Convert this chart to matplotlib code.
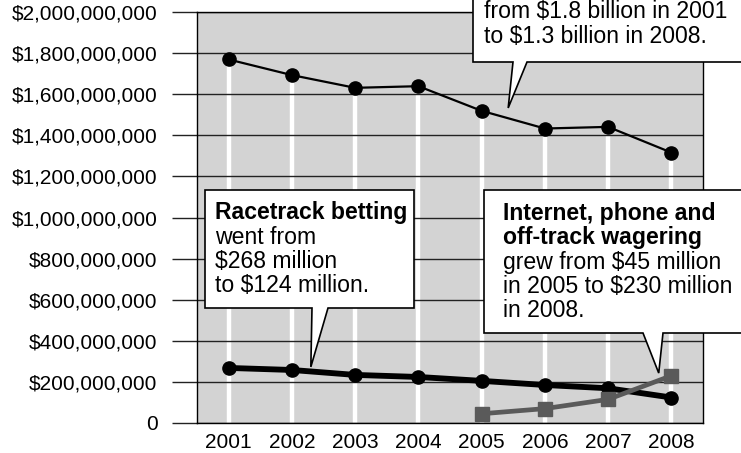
import matplotlib
matplotlib.use("Agg")
import matplotlib.pyplot as plt
from matplotlib.patches import Polygon
from matplotlib.ticker import FuncFormatter

plt.rcParams["font.family"] = ["Liberation Sans", "DejaVu Sans"]

years = [2001, 2002, 2003, 2004, 2005, 2006, 2007, 2008]
total_wagering = [1769e6, 1693e6, 1631e6, 1639e6, 1519e6, 1433e6, 1441e6, 1316e6]
racetrack = [268e6, 258e6, 234e6, 224e6, 205e6, 185e6, 169e6, 124e6]
remote_years = [2005, 2006, 2007, 2008]
remote = [45e6, 70e6, 115e6, 230e6]
y_ticks = [0, 200e6, 400e6, 600e6, 800e6, 1000e6, 1200e6, 1400e6, 1600e6, 1800e6, 2000e6]

W, H = 741, 453
BG = "#d3d3d3"
INK = "#000000"
GRID = "#222222"
GREY_LINE = "#5a5a5a"
TXT = 16.6


def px(x, y):
    """pixel (from top-left) -> figure fraction"""
    return (x / W, 1 - y / H)


fig = plt.figure(figsize=(W / 100, H / 100), dpi=100)
ax = fig.add_axes([197 / W, (H - 423) / H, (703 - 197) / W, (423 - 12) / H])
ax.set_facecolor(BG)

ax.vlines(years, 0, total_wagering, color="white", lw=3.2, zorder=1)
ax.grid(axis="y", color=GRID, lw=1)
ax.grid(axis="x", visible=False)

ax.plot(years, total_wagering, color=INK, lw=1.6, marker="o", ms=9.5, zorder=3)
ax.plot(years, racetrack, color=INK, lw=4.2, marker="o", ms=9.5, zorder=3)
ax.plot(remote_years, remote, color=GREY_LINE, lw=3.4, marker="s", ms=10, zorder=4)

ax.set_xlim(2000.5, 2008.5)
ax.set_ylim(0, 2e9)
ax.set_xticks(years)
ax.set_yticks(y_ticks)
ax.yaxis.set_major_formatter(FuncFormatter(lambda v, p: "0" if v == 0 else "${:,.0f}".format(v)))
ax.tick_params(axis="y", length=18, width=1, color=GRID, pad=10.5, labelsize=15)
ax.tick_params(axis="x", length=0, pad=7, labelsize=15)
for s in ax.spines.values():
    s.set_color(INK)
    s.set_linewidth(1)


def callout(box, base, tip_data):
    """box=(x0, y0, x1, y1) and base=(xa, xb) in pixels, tip in data coords"""
    x0, y0, x1, y1 = box
    tip = ax.transData.transform(tip_data)
    tip = (tip[0] / W, tip[1] / H)
    verts = [px(x0, y0), px(x1, y0), px(x1, y1), px(base[1], y1), tip,
             px(base[0], y1), px(x0, y1)]
    fig.add_artist(Polygon(verts, closed=True, facecolor="white", edgecolor=INK,
                           lw=1.2, zorder=5, transform=fig.transFigure))


def lines(x, y0, step, rows):
    for i, (txt, bold) in enumerate(rows):
        fig.text(*px(x, y0 + i * step), txt, fontsize=TXT, va="baseline", ha="left",
                 fontweight="bold" if bold else "normal", zorder=6)


# total wagering callout (cut off at the top of the picture, as in the source)
callout((473, -60, 770, 62), (513, 527), (2005.42, 1.533e9))
lines(484, -6, 24.5, [("Overall gaming", True),
                      ("from $1.8 billion in 2001", False),
                      ("to $1.3 billion in 2008.", False)])
# racetrack callout
callout((205, 190, 414, 308), (312, 328), (2002.30, 0.273e9))
lines(215, 219.5, 24.3, [("Racetrack betting", True), ("went from", False),
                         ("$268 million", False), ("to $124 million.", False)])
# internet / phone / off-track callout
callout((484, 190, 770, 333), (643, 663), (2007.80, 0.243e9))
lines(503, 220, 24.3, [("Internet, phone and", True), ("off-track wagering", True),
                       ("grew from $45 million", False), ("in 2005 to $230 million", False),
                       ("in 2008.", False)])

fig.savefig("out.png", dpi=100)
